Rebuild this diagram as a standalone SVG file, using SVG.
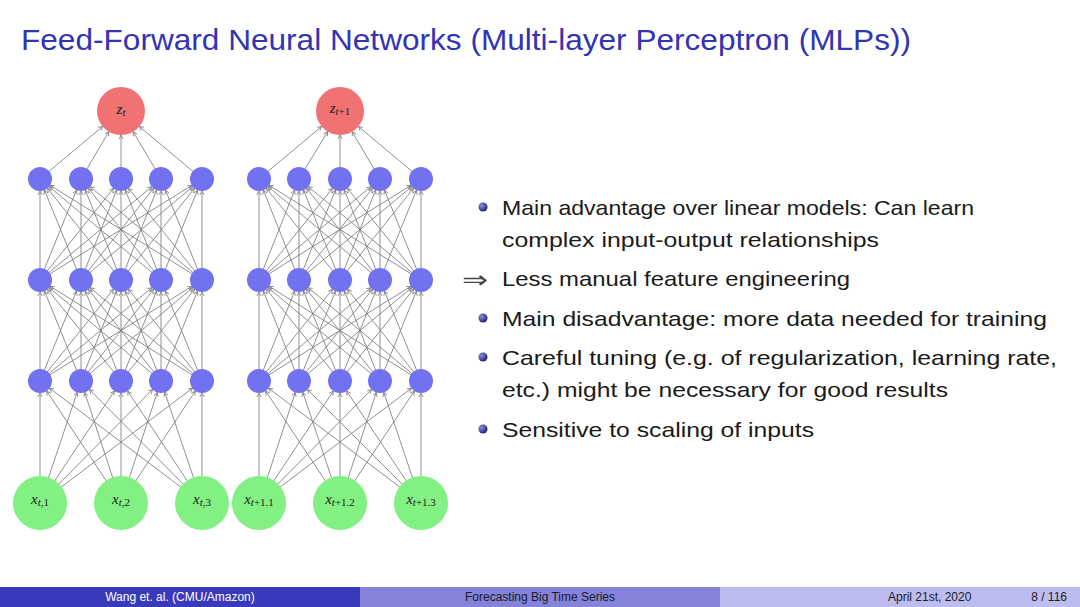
<svg xmlns="http://www.w3.org/2000/svg" width="1080" height="607" viewBox="0 0 1080 607">
<defs>
<style>
.title{font-family:"Liberation Sans","DejaVu Sans",sans-serif;font-size:29px;fill:#3333b3}
.body{font-family:"Liberation Sans","DejaVu Sans",sans-serif;font-size:21px;fill:#1a1a1a}
.foot{font-family:"Liberation Sans","DejaVu Sans",sans-serif;font-size:12px}
.math{font-family:"Liberation Serif","DejaVu Serif",serif;font-size:15px;fill:#222;font-style:italic}
.sub{font-size:11px}
.up{font-style:normal}
.e{stroke:#7c7c7c;stroke-width:0.85;fill:none;marker-end:url(#ah)}
.eo{stroke:#7c7c7c;stroke-width:0.85;fill:none;marker-end:url(#ao)}
.hid{fill:#7272f0}
.out{fill:#f07272}
.inp{fill:#82f082}
</style>
<marker id="ah" markerUnits="userSpaceOnUse" orient="auto" refX="16" refY="0" markerWidth="20" markerHeight="10" viewBox="0 -5 20 10" overflow="visible">
<path d="M0,-2.2 L3.8,0 L0,2.2" fill="none" stroke="#7c7c7c" stroke-width="0.8"/>
</marker>
<marker id="ao" markerUnits="userSpaceOnUse" orient="auto" refX="28" refY="0" markerWidth="32" markerHeight="10" viewBox="0 -5 32 10" overflow="visible">
<path d="M0,-2.2 L3.8,0 L0,2.2" fill="none" stroke="#7c7c7c" stroke-width="0.8"/>
</marker>
<radialGradient id="ball" cx="0.35" cy="0.35" r="0.7">
<stop offset="0" stop-color="#8c8ce6"/>
<stop offset="1" stop-color="#1e1e6e"/>
</radialGradient>
</defs>
<rect width="1080" height="607" fill="#ffffff"/>
<text class="title" x="21" y="50" textLength="890" lengthAdjust="spacingAndGlyphs">Feed-Forward Neural Networks (Multi-layer Perceptron (MLPs))</text>

<g id="connectors">
<!-- left network: inputs -> hidden 1 -->
<line class="e" x1="40" y1="503" x2="40" y2="381"/><line class="e" x1="40" y1="503" x2="81" y2="381"/><line class="e" x1="40" y1="503" x2="121" y2="381"/><line class="e" x1="40" y1="503" x2="161" y2="381"/><line class="e" x1="40" y1="503" x2="202" y2="381"/>
<line class="e" x1="121" y1="503" x2="40" y2="381"/><line class="e" x1="121" y1="503" x2="81" y2="381"/><line class="e" x1="121" y1="503" x2="121" y2="381"/><line class="e" x1="121" y1="503" x2="161" y2="381"/><line class="e" x1="121" y1="503" x2="202" y2="381"/>
<line class="e" x1="202" y1="503" x2="40" y2="381"/><line class="e" x1="202" y1="503" x2="81" y2="381"/><line class="e" x1="202" y1="503" x2="121" y2="381"/><line class="e" x1="202" y1="503" x2="161" y2="381"/><line class="e" x1="202" y1="503" x2="202" y2="381"/>
<!-- left: hidden 1 -> hidden 2 -->
<line class="e" x1="40" y1="381" x2="40" y2="280"/><line class="e" x1="40" y1="381" x2="81" y2="280"/><line class="e" x1="40" y1="381" x2="121" y2="280"/><line class="e" x1="40" y1="381" x2="161" y2="280"/><line class="e" x1="40" y1="381" x2="202" y2="280"/>
<line class="e" x1="81" y1="381" x2="40" y2="280"/><line class="e" x1="81" y1="381" x2="81" y2="280"/><line class="e" x1="81" y1="381" x2="121" y2="280"/><line class="e" x1="81" y1="381" x2="161" y2="280"/><line class="e" x1="81" y1="381" x2="202" y2="280"/>
<line class="e" x1="121" y1="381" x2="40" y2="280"/><line class="e" x1="121" y1="381" x2="81" y2="280"/><line class="e" x1="121" y1="381" x2="121" y2="280"/><line class="e" x1="121" y1="381" x2="161" y2="280"/><line class="e" x1="121" y1="381" x2="202" y2="280"/>
<line class="e" x1="161" y1="381" x2="40" y2="280"/><line class="e" x1="161" y1="381" x2="81" y2="280"/><line class="e" x1="161" y1="381" x2="121" y2="280"/><line class="e" x1="161" y1="381" x2="161" y2="280"/><line class="e" x1="161" y1="381" x2="202" y2="280"/>
<line class="e" x1="202" y1="381" x2="40" y2="280"/><line class="e" x1="202" y1="381" x2="81" y2="280"/><line class="e" x1="202" y1="381" x2="121" y2="280"/><line class="e" x1="202" y1="381" x2="161" y2="280"/><line class="e" x1="202" y1="381" x2="202" y2="280"/>
<!-- left: hidden 2 -> hidden 3 -->
<line class="e" x1="40" y1="280" x2="40" y2="179"/><line class="e" x1="40" y1="280" x2="81" y2="179"/><line class="e" x1="40" y1="280" x2="121" y2="179"/><line class="e" x1="40" y1="280" x2="161" y2="179"/><line class="e" x1="40" y1="280" x2="202" y2="179"/>
<line class="e" x1="81" y1="280" x2="40" y2="179"/><line class="e" x1="81" y1="280" x2="81" y2="179"/><line class="e" x1="81" y1="280" x2="121" y2="179"/><line class="e" x1="81" y1="280" x2="161" y2="179"/><line class="e" x1="81" y1="280" x2="202" y2="179"/>
<line class="e" x1="121" y1="280" x2="40" y2="179"/><line class="e" x1="121" y1="280" x2="81" y2="179"/><line class="e" x1="121" y1="280" x2="121" y2="179"/><line class="e" x1="121" y1="280" x2="161" y2="179"/><line class="e" x1="121" y1="280" x2="202" y2="179"/>
<line class="e" x1="161" y1="280" x2="40" y2="179"/><line class="e" x1="161" y1="280" x2="81" y2="179"/><line class="e" x1="161" y1="280" x2="121" y2="179"/><line class="e" x1="161" y1="280" x2="161" y2="179"/><line class="e" x1="161" y1="280" x2="202" y2="179"/>
<line class="e" x1="202" y1="280" x2="40" y2="179"/><line class="e" x1="202" y1="280" x2="81" y2="179"/><line class="e" x1="202" y1="280" x2="121" y2="179"/><line class="e" x1="202" y1="280" x2="161" y2="179"/><line class="e" x1="202" y1="280" x2="202" y2="179"/>
<!-- left: hidden 3 -> output -->
<line class="eo" x1="40" y1="179" x2="121" y2="111"/><line class="eo" x1="81" y1="179" x2="121" y2="111"/><line class="eo" x1="121" y1="179" x2="121" y2="111"/><line class="eo" x1="161" y1="179" x2="121" y2="111"/><line class="eo" x1="202" y1="179" x2="121" y2="111"/>

<!-- right network: inputs -> hidden 1 -->
<line class="e" x1="259" y1="503" x2="259" y2="381"/><line class="e" x1="259" y1="503" x2="299" y2="381"/><line class="e" x1="259" y1="503" x2="340" y2="381"/><line class="e" x1="259" y1="503" x2="380" y2="381"/><line class="e" x1="259" y1="503" x2="421" y2="381"/>
<line class="e" x1="340" y1="503" x2="259" y2="381"/><line class="e" x1="340" y1="503" x2="299" y2="381"/><line class="e" x1="340" y1="503" x2="340" y2="381"/><line class="e" x1="340" y1="503" x2="380" y2="381"/><line class="e" x1="340" y1="503" x2="421" y2="381"/>
<line class="e" x1="421" y1="503" x2="259" y2="381"/><line class="e" x1="421" y1="503" x2="299" y2="381"/><line class="e" x1="421" y1="503" x2="340" y2="381"/><line class="e" x1="421" y1="503" x2="380" y2="381"/><line class="e" x1="421" y1="503" x2="421" y2="381"/>
<!-- right: hidden 1 -> hidden 2 -->
<line class="e" x1="259" y1="381" x2="259" y2="280"/><line class="e" x1="259" y1="381" x2="299" y2="280"/><line class="e" x1="259" y1="381" x2="340" y2="280"/><line class="e" x1="259" y1="381" x2="380" y2="280"/><line class="e" x1="259" y1="381" x2="421" y2="280"/>
<line class="e" x1="299" y1="381" x2="259" y2="280"/><line class="e" x1="299" y1="381" x2="299" y2="280"/><line class="e" x1="299" y1="381" x2="340" y2="280"/><line class="e" x1="299" y1="381" x2="380" y2="280"/><line class="e" x1="299" y1="381" x2="421" y2="280"/>
<line class="e" x1="340" y1="381" x2="259" y2="280"/><line class="e" x1="340" y1="381" x2="299" y2="280"/><line class="e" x1="340" y1="381" x2="340" y2="280"/><line class="e" x1="340" y1="381" x2="380" y2="280"/><line class="e" x1="340" y1="381" x2="421" y2="280"/>
<line class="e" x1="380" y1="381" x2="259" y2="280"/><line class="e" x1="380" y1="381" x2="299" y2="280"/><line class="e" x1="380" y1="381" x2="340" y2="280"/><line class="e" x1="380" y1="381" x2="380" y2="280"/><line class="e" x1="380" y1="381" x2="421" y2="280"/>
<line class="e" x1="421" y1="381" x2="259" y2="280"/><line class="e" x1="421" y1="381" x2="299" y2="280"/><line class="e" x1="421" y1="381" x2="340" y2="280"/><line class="e" x1="421" y1="381" x2="380" y2="280"/><line class="e" x1="421" y1="381" x2="421" y2="280"/>
<!-- right: hidden 2 -> hidden 3 -->
<line class="e" x1="259" y1="280" x2="259" y2="179"/><line class="e" x1="259" y1="280" x2="299" y2="179"/><line class="e" x1="259" y1="280" x2="340" y2="179"/><line class="e" x1="259" y1="280" x2="380" y2="179"/><line class="e" x1="259" y1="280" x2="421" y2="179"/>
<line class="e" x1="299" y1="280" x2="259" y2="179"/><line class="e" x1="299" y1="280" x2="299" y2="179"/><line class="e" x1="299" y1="280" x2="340" y2="179"/><line class="e" x1="299" y1="280" x2="380" y2="179"/><line class="e" x1="299" y1="280" x2="421" y2="179"/>
<line class="e" x1="340" y1="280" x2="259" y2="179"/><line class="e" x1="340" y1="280" x2="299" y2="179"/><line class="e" x1="340" y1="280" x2="340" y2="179"/><line class="e" x1="340" y1="280" x2="380" y2="179"/><line class="e" x1="340" y1="280" x2="421" y2="179"/>
<line class="e" x1="380" y1="280" x2="259" y2="179"/><line class="e" x1="380" y1="280" x2="299" y2="179"/><line class="e" x1="380" y1="280" x2="340" y2="179"/><line class="e" x1="380" y1="280" x2="380" y2="179"/><line class="e" x1="380" y1="280" x2="421" y2="179"/>
<line class="e" x1="421" y1="280" x2="259" y2="179"/><line class="e" x1="421" y1="280" x2="299" y2="179"/><line class="e" x1="421" y1="280" x2="340" y2="179"/><line class="e" x1="421" y1="280" x2="380" y2="179"/><line class="e" x1="421" y1="280" x2="421" y2="179"/>
<!-- right: hidden 3 -> output -->
<line class="eo" x1="259" y1="179" x2="340" y2="111"/><line class="eo" x1="299" y1="179" x2="340" y2="111"/><line class="eo" x1="340" y1="179" x2="340" y2="111"/><line class="eo" x1="380" y1="179" x2="340" y2="111"/><line class="eo" x1="421" y1="179" x2="340" y2="111"/>
</g>

<!-- left network nodes -->
<g id="zt"><circle class="out" cx="121" cy="111" r="24"/><text class="math" x="121" y="114" text-anchor="middle">z<tspan class="sub" dy="2">t</tspan></text></g>
<g id="L3a"><circle class="hid" cx="40" cy="179" r="12"/></g>
<g id="L3b"><circle class="hid" cx="81" cy="179" r="12"/></g>
<g id="L3c"><circle class="hid" cx="121" cy="179" r="12"/></g>
<g id="L3d"><circle class="hid" cx="161" cy="179" r="12"/></g>
<g id="L3e"><circle class="hid" cx="202" cy="179" r="12"/></g>
<g id="L2a"><circle class="hid" cx="40" cy="280" r="12"/></g>
<g id="L2b"><circle class="hid" cx="81" cy="280" r="12"/></g>
<g id="L2c"><circle class="hid" cx="121" cy="280" r="12"/></g>
<g id="L2d"><circle class="hid" cx="161" cy="280" r="12"/></g>
<g id="L2e"><circle class="hid" cx="202" cy="280" r="12"/></g>
<g id="L1a"><circle class="hid" cx="40" cy="381" r="12"/></g>
<g id="L1b"><circle class="hid" cx="81" cy="381" r="12"/></g>
<g id="L1c"><circle class="hid" cx="121" cy="381" r="12"/></g>
<g id="L1d"><circle class="hid" cx="161" cy="381" r="12"/></g>
<g id="L1e"><circle class="hid" cx="202" cy="381" r="12"/></g>
<g id="xt1"><circle class="inp" cx="40" cy="503" r="27"/><text class="math" x="40" y="504" text-anchor="middle">x<tspan class="sub" dy="2">t</tspan><tspan class="sub up">,1</tspan></text></g>
<g id="xt2"><circle class="inp" cx="121" cy="503" r="27"/><text class="math" x="121" y="504" text-anchor="middle">x<tspan class="sub" dy="2">t</tspan><tspan class="sub up">,2</tspan></text></g>
<g id="xt3"><circle class="inp" cx="202" cy="503" r="27"/><text class="math" x="202" y="504" text-anchor="middle">x<tspan class="sub" dy="2">t</tspan><tspan class="sub up">,3</tspan></text></g>

<!-- right network nodes -->
<g id="zt1"><circle class="out" cx="340" cy="111" r="24"/><text class="math" x="340" y="113" text-anchor="middle">z<tspan class="sub" dy="2">t</tspan><tspan class="sub up">+1</tspan></text></g>
<g id="R3a"><circle class="hid" cx="259" cy="179" r="12"/></g>
<g id="R3b"><circle class="hid" cx="299" cy="179" r="12"/></g>
<g id="R3c"><circle class="hid" cx="340" cy="179" r="12"/></g>
<g id="R3d"><circle class="hid" cx="380" cy="179" r="12"/></g>
<g id="R3e"><circle class="hid" cx="421" cy="179" r="12"/></g>
<g id="R2a"><circle class="hid" cx="259" cy="280" r="12"/></g>
<g id="R2b"><circle class="hid" cx="299" cy="280" r="12"/></g>
<g id="R2c"><circle class="hid" cx="340" cy="280" r="12"/></g>
<g id="R2d"><circle class="hid" cx="380" cy="280" r="12"/></g>
<g id="R2e"><circle class="hid" cx="421" cy="280" r="12"/></g>
<g id="R1a"><circle class="hid" cx="259" cy="381" r="12"/></g>
<g id="R1b"><circle class="hid" cx="299" cy="381" r="12"/></g>
<g id="R1c"><circle class="hid" cx="340" cy="381" r="12"/></g>
<g id="R1d"><circle class="hid" cx="380" cy="381" r="12"/></g>
<g id="R1e"><circle class="hid" cx="421" cy="381" r="12"/></g>
<g id="xt11"><circle class="inp" cx="259" cy="503" r="27"/><text class="math" x="259" y="504" text-anchor="middle">x<tspan class="sub" dy="2">t</tspan><tspan class="sub up">+1.1</tspan></text></g>
<g id="xt12"><circle class="inp" cx="340" cy="503" r="27"/><text class="math" x="340" y="504" text-anchor="middle">x<tspan class="sub" dy="2">t</tspan><tspan class="sub up">+1.2</tspan></text></g>
<g id="xt13"><circle class="inp" cx="421" cy="503" r="27"/><text class="math" x="421" y="504" text-anchor="middle">x<tspan class="sub" dy="2">t</tspan><tspan class="sub up">+1.3</tspan></text></g>

<!-- bullet list -->
<g id="bullets">
<circle cx="483" cy="207" r="4.5" fill="url(#ball)"/>
<circle cx="483" cy="318" r="4.5" fill="url(#ball)"/>
<circle cx="483" cy="357" r="4.5" fill="url(#ball)"/>
<circle cx="483" cy="429" r="4.5" fill="url(#ball)"/>
<text x="462" y="288" font-family="DejaVu Sans, sans-serif" font-size="24" fill="#444" textLength="26" lengthAdjust="spacingAndGlyphs">⇒</text>
<text class="body" x="502" y="215" textLength="472" lengthAdjust="spacingAndGlyphs">Main advantage over linear models: Can learn</text>
<text class="body" x="502" y="247" textLength="377" lengthAdjust="spacingAndGlyphs">complex input-output relationships</text>
<text class="body" x="502" y="286" textLength="348" lengthAdjust="spacingAndGlyphs">Less manual feature engineering</text>
<text class="body" x="502" y="326" textLength="545" lengthAdjust="spacingAndGlyphs">Main disadvantage: more data needed for training</text>
<text class="body" x="502" y="365" textLength="555" lengthAdjust="spacingAndGlyphs">Careful tuning (e.g. of regularization, learning rate,</text>
<text class="body" x="502" y="397" textLength="446" lengthAdjust="spacingAndGlyphs">etc.) might be necessary for good results</text>
<text class="body" x="502" y="437" textLength="312" lengthAdjust="spacingAndGlyphs">Sensitive to scaling of inputs</text>
</g>

<!-- footer -->
<g id="footer">
<rect x="0" y="587" width="360" height="20" fill="#3939bb"/>
<rect x="360" y="587" width="360" height="20" fill="#8383d9"/>
<rect x="720" y="587" width="360" height="20" fill="#bcbcee"/>
<text class="foot" x="180" y="601" text-anchor="middle" fill="#ffffff">Wang et. al.  (CMU/Amazon)</text>
<text class="foot" x="540" y="601" text-anchor="middle" fill="#1a1a2a">Forecasting Big Time Series</text>
<text class="foot" x="888" y="601" fill="#1a1a2a">April 21st, 2020</text>
<text class="foot" x="1067" y="601" text-anchor="end" fill="#1a1a2a">8 / 116</text>
</g>
</svg>
